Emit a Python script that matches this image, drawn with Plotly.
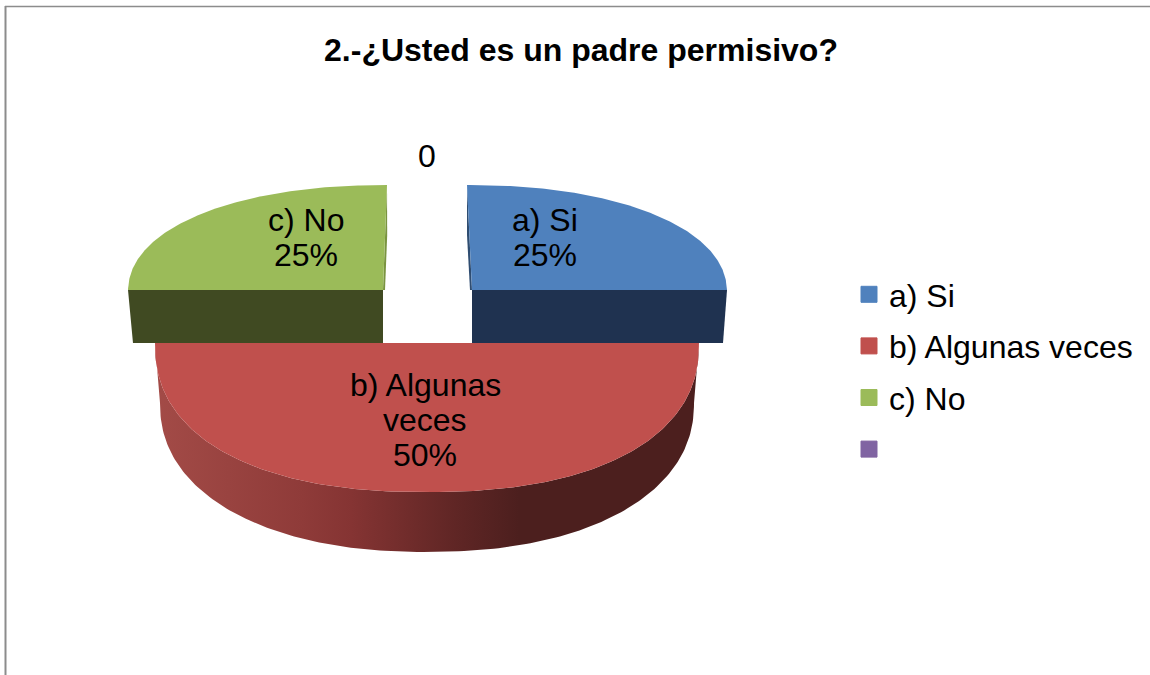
"""2.-¿Usted es un padre permisivo? : exploded 3D style pie chart."""

import numpy as np
import plotly.graph_objects as go

FONT = "Liberation Sans"

categories = ["a) Si", "b) Algunas veces", "c) No", " "]
values = [25, 50, 25, 0]
colors = ["#4F81BD", "#C0504D", "#9BBB59", "#8064A2"]
label_lines = [["a) Si"], ["b) Algunas", "veces"], ["c) No"], []]

TITLE = "2.-¿Usted es un padre permisivo?"


def slice_angles(vals):
    """Start and end angle of each slice, clockwise from 12 o'clock."""
    edges = np.cumsum([0] + list(vals)) / sum(vals) * 2 * np.pi
    return list(zip(edges[:-1], edges[1:]))


def arc(theta0, theta1, cx, cy, a, b, skew=0.0, power=2.0, n=180):
    """Rounded ellipse arc in pixels; power > 2 fattens it like the perspective does."""
    t = np.linspace(theta0, theta1, n)
    sin_t = np.sign(np.sin(t)) * np.abs(np.sin(t)) ** (2 / power)
    cos_t = np.sign(np.cos(t)) * np.abs(np.cos(t)) ** (2 / power)
    return cx + a * sin_t + skew * cos_t, cy - b * cos_t


def add_poly(fig, x, y, color):
    fig.add_trace(
        go.Scatter(
            x=list(x),
            y=list(y),
            mode="lines",
            fill="toself",
            fillcolor=color,
            line={"width": 0, "color": color},
            hoverinfo="skip",
            showlegend=False,
        )
    )


def add_back_slice(fig, angles, color, side_color, edge_color, cx, skew, bottom_inset):
    """One of the two rear slices: cut face in front and a thin side wall."""
    cy, a, b, depth = 290, 255, 105, 53
    x, y = arc(*angles, cx, cy, a, b, skew, power=2.15)
    # rim point that sits on the horizontal front cut
    rim = x[-1] if abs(y[-1] - cy) < 1 else x[0]
    lean = 1 if rim > cx else -1
    add_poly(
        fig,
        [cx, rim, rim - lean * bottom_inset, cx, cx],
        [cy, cy, cy + depth, cy + depth, cy],
        side_color,
    )
    # sliver along the back edge of the slice
    back_x = cx + skew
    add_poly(
        fig,
        [back_x, cx, cx - lean * 2, back_x - skew * 0.2 - lean * 1],
        [cy - b, cy, cy, cy - b + 50],
        edge_color,
    )
    add_poly(fig, [cx, *x, cx], [cy, *y, cy], color)


def add_front_slice(fig, angles, color):
    """The big front slice: elliptical top face over a shaded outer wall."""
    cx, cy, a, b = 427, 343, 272, 149
    top_x, top_y = arc(*angles, cx, cy, a, b, power=2.3)
    low_x, low_y = arc(*angles, cx, cy + 60, a - 5, b, power=2.2)
    fig.add_trace(
        go.Scatter(
            x=list(top_x) + list(low_x[::-1]),
            y=list(top_y) + list(low_y[::-1]),
            mode="lines",
            fill="toself",
            line={"width": 0},
            fillgradient={
                "type": "horizontal",
                "colorscale": [
                    [0.0, "#A34B47"],
                    [0.27, "#8F3B39"],
                    [0.36, "#853433"],
                    [0.55, "#602625"],
                    [0.67, "#4C1F1E"],
                    [1.0, "#4C1F1E"],
                ],
            },
            hoverinfo="skip",
            showlegend=False,
        )
    )
    add_poly(fig, top_x, top_y, color)


fig = go.Figure()
spans = slice_angles(values)

add_back_slice(fig, spans[0], colors[0], "#1F3250", "#2F4D71", 472, -5, 4)
add_back_slice(fig, spans[2], colors[2], "#404A22", "#7A9440", 383, 4, 5)
add_front_slice(fig, spans[1], colors[1])

# legend keys
for name, color in zip(categories, colors):
    fig.add_trace(
        go.Scatter(
            x=[None],
            y=[None],
            mode="markers",
            name=name,
            legendgroup=name,
            marker={"symbol": "square", "size": 16, "color": color, "line": {"width": 1, "color": color}},
        )
    )

# data labels, one annotation per line to keep the tight line spacing
label_pos = [(545, 220), (425, 385), (306, 220), (426.5, 156)]
annotations = []
for lines, val, (lx, ly) in zip(label_lines, values, label_pos):
    texts = lines + [f"{val}%"] if lines else [str(val)]
    for i, txt in enumerate(texts):
        annotations.append(
            {
                "x": lx,
                "y": ly + i * 35,
                "text": txt,
                "showarrow": False,
                "xanchor": "center",
                "yanchor": "middle",
                "font": {"family": FONT, "size": 32, "color": "black"},
            }
        )

fig.update_layout(
    width=1150,
    height=675,
    margin={"t": 0, "b": 0, "l": 0, "r": 0, "pad": 0},
    plot_bgcolor="white",
    paper_bgcolor="white",
    title={
        "text": f"<b>{TITLE}</b>",
        "font": {"family": FONT, "size": 32, "color": "black"},
        "x": 581 / 1150,
        "xanchor": "center",
        "y": 1 - 50 / 675,
        "yanchor": "middle",
    },
    xaxis={"range": [0, 1150], "visible": False, "fixedrange": True},
    yaxis={"range": [675, 0], "visible": False, "fixedrange": True},
    showlegend=True,
    legend={
        "x": 849 / 1150,
        "y": 1 - 267 / 675,
        "xanchor": "left",
        "yanchor": "top",
        "font": {"family": FONT, "size": 32, "color": "black"},
        "tracegroupgap": 7,
        "bgcolor": "rgba(0,0,0,0)",
    },
    annotations=annotations,
    shapes=[
        {
            "type": "line",
            "x0": 5.5,
            "x1": 5.5,
            "y0": 675,
            "y1": 6,
            "line": {"color": "#8C8C8C", "width": 2},
        },
        {
            "type": "line",
            "x0": 5,
            "x1": 1150,
            "y0": 6.5,
            "y1": 6.5,
            "line": {"color": "#8C8C8C", "width": 1.5},
        },
    ],
)

fig.write_html(
    "out.html",
    config={"displayModeBar": False},
    post_script="document.body.style.margin='0';document.body.style.overflow='hidden';",
)
